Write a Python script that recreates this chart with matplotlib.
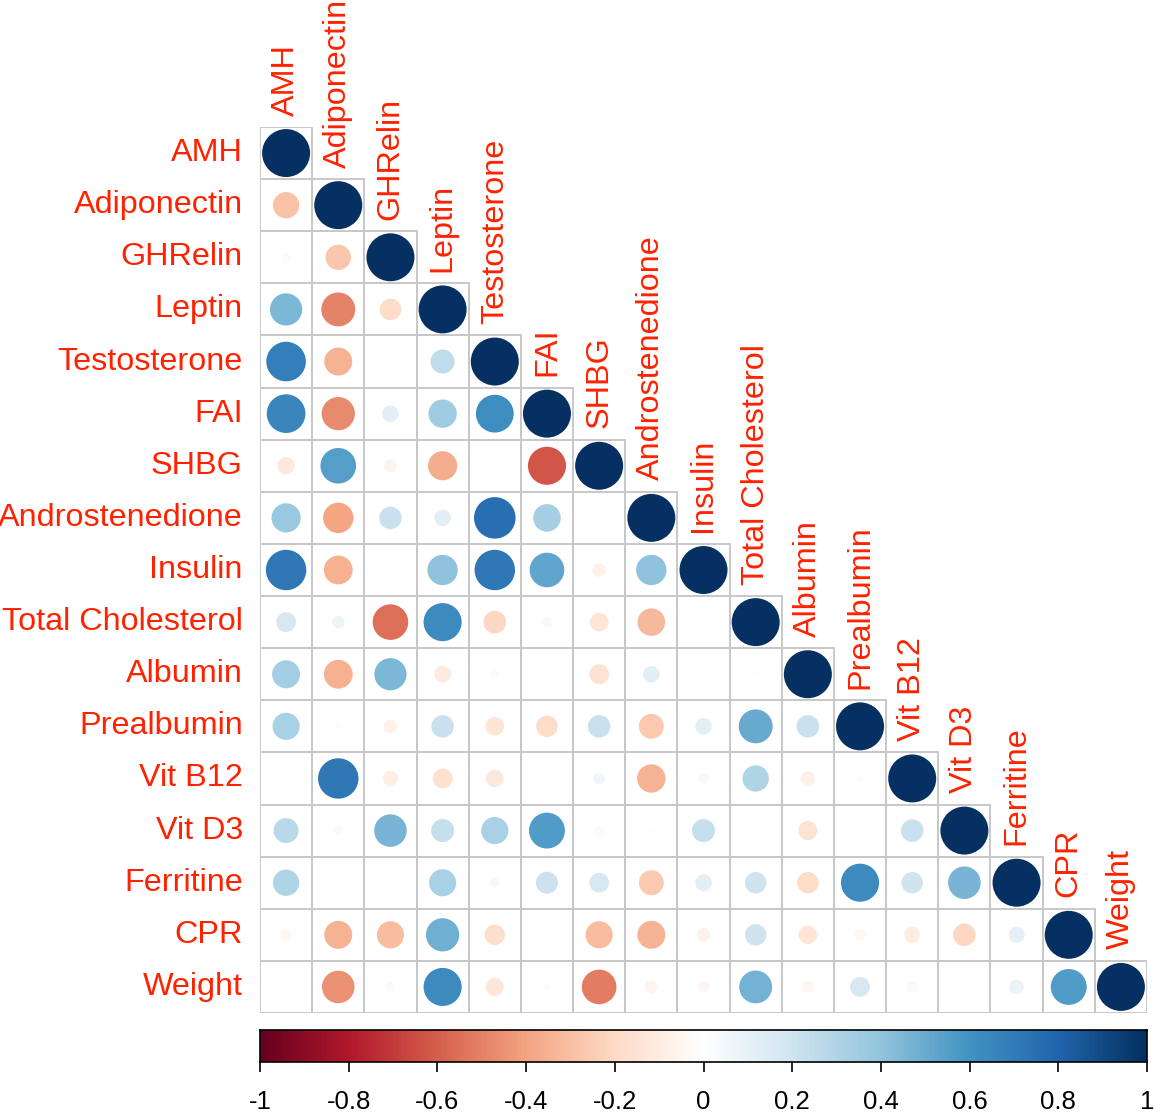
import numpy as np
import matplotlib
matplotlib.use("Agg")
import matplotlib.pyplot as plt
from matplotlib.colors import LinearSegmentedColormap
from matplotlib.patches import Circle, Rectangle

plt.rcParams["font.family"] = ["Liberation Sans", "DejaVu Sans"]

labels = ["AMH", "Adiponectin", "GHRelin", "Leptin", "Testosterone", "FAI", "SHBG",
          "Androstenedione", "Insulin", "Total Cholesterol", "Albumin", "Prealbumin",
          "Vit B12", "Vit D3", "Ferritine", "CPR", "Weight"]

# lower triangle of the correlation matrix, row by row (diagonal included)
lower = [
    [1],
    [-0.30, 1],
    [-0.03, -0.28, 1],
    [0.45, -0.50, -0.20, 1],
    [0.68, -0.34, 0.00, 0.25, 1],
    [0.65, -0.48, 0.12, 0.35, 0.62, 1],
    [-0.13, 0.55, -0.07, -0.37, 0.00, -0.63, 1],
    [0.37, -0.40, 0.22, 0.12, 0.75, 0.33, 0.00, 1],
    [0.71, -0.36, 0.00, 0.40, 0.71, 0.52, -0.08, 0.40, 1],
    [0.17, 0.07, -0.55, 0.63, -0.22, -0.05, -0.15, -0.33, 0.00, 1],
    [0.34, -0.36, 0.45, -0.12, -0.03, 0.00, -0.17, 0.12, 0.00, -0.02, 1],
    [0.32, -0.02, -0.08, 0.22, -0.15, -0.20, 0.22, -0.27, 0.12, 0.50, 0.22, 1],
    [0.00, 0.71, -0.10, -0.17, -0.13, 0.00, 0.06, -0.35, -0.05, 0.30, -0.09, 0.02, 1],
    [0.27, -0.04, 0.46, 0.23, 0.32, 0.56, -0.04, 0.01, 0.23, 0.00, -0.16, 0.00, 0.22, 1],
    [0.30, 0.00, 0.00, 0.32, 0.04, 0.21, 0.17, -0.27, 0.12, 0.20, -0.20, 0.63, 0.20, 0.46, 1],
    [-0.05, -0.34, -0.32, 0.48, -0.18, 0.00, -0.32, -0.34, -0.08, 0.20, -0.15, -0.05, -0.11, -0.22, 0.11, 1],
    [0.00, -0.46, -0.04, 0.63, -0.14, 0.02, -0.52, -0.07, -0.06, 0.47, -0.06, 0.17, -0.05, 0.00, 0.09, 0.56, 1],
]

cbar_ticks = [-1, -0.8, -0.6, -0.4, -0.2, 0, 0.2, 0.4, 0.6, 0.8, 1]

col2 = ["#67001F", "#B2182B", "#D6604D", "#F4A582", "#FDDBC7", "#FFFFFF",
        "#D1E5F0", "#92C5DE", "#4393C3", "#2166AC", "#053061"]
cmap = LinearSegmentedColormap.from_list("corr", col2, N=200)
lab_col = "#FF2200"

n = len(labels)
W, H = 1155, 1116
fig = plt.figure(figsize=(W / 100, H / 100), dpi=100)

x0, x1, y0, y1 = 260, 1147, 127, 1013
ax = fig.add_axes([x0 / W, 1 - y1 / H, (x1 - x0) / W, (y1 - y0) / H])
ax.set_xlim(0, n)
ax.set_ylim(n, 0)
ax.axis("off")

for i, row in enumerate(lower):
    for j, r in enumerate(row):
        ax.add_patch(Rectangle((j, i), 1, 1, fill=False, ec="#C8C8C8", lw=1.4, zorder=1))
        if r != 0:
            ax.add_patch(Circle((j + 0.5, i + 0.5), 0.46 * np.sqrt(abs(r)),
                                fc=cmap((r + 1) / 2), ec="none", zorder=2))

for k, name in enumerate(labels):
    ax.text(-0.33, k + 0.5, name, ha="right", va="center", fontsize=23.3,
            color=lab_col, clip_on=False)
    ax.text(k + 0.5, k - 0.22, name, ha="center", va="bottom", rotation=90,
            fontsize=23.3, color=lab_col, clip_on=False)

# colour legend
cy0, cy1 = 1030, 1062
cax = fig.add_axes([x0 / W, 1 - cy1 / H, (x1 - x0) / W, (cy1 - cy0) / H])
grad = np.linspace(-1, 1, 400).reshape(1, -1)
cax.imshow(grad, cmap=cmap, vmin=-1, vmax=1, aspect="auto", extent=[-1, 1, 0, 1])
cax.set_xlim(-1, 1)
cax.set_yticks([])
cax.set_xticks(cbar_ticks)
cax.set_xticklabels([f"{t:g}" for t in cbar_ticks])
cax.tick_params(axis="x", length=7, width=1.2, pad=13, labelsize=18.5)
for s in cax.spines.values():
    s.set_linewidth(1.2)

fig.savefig("out.png", dpi=100)
